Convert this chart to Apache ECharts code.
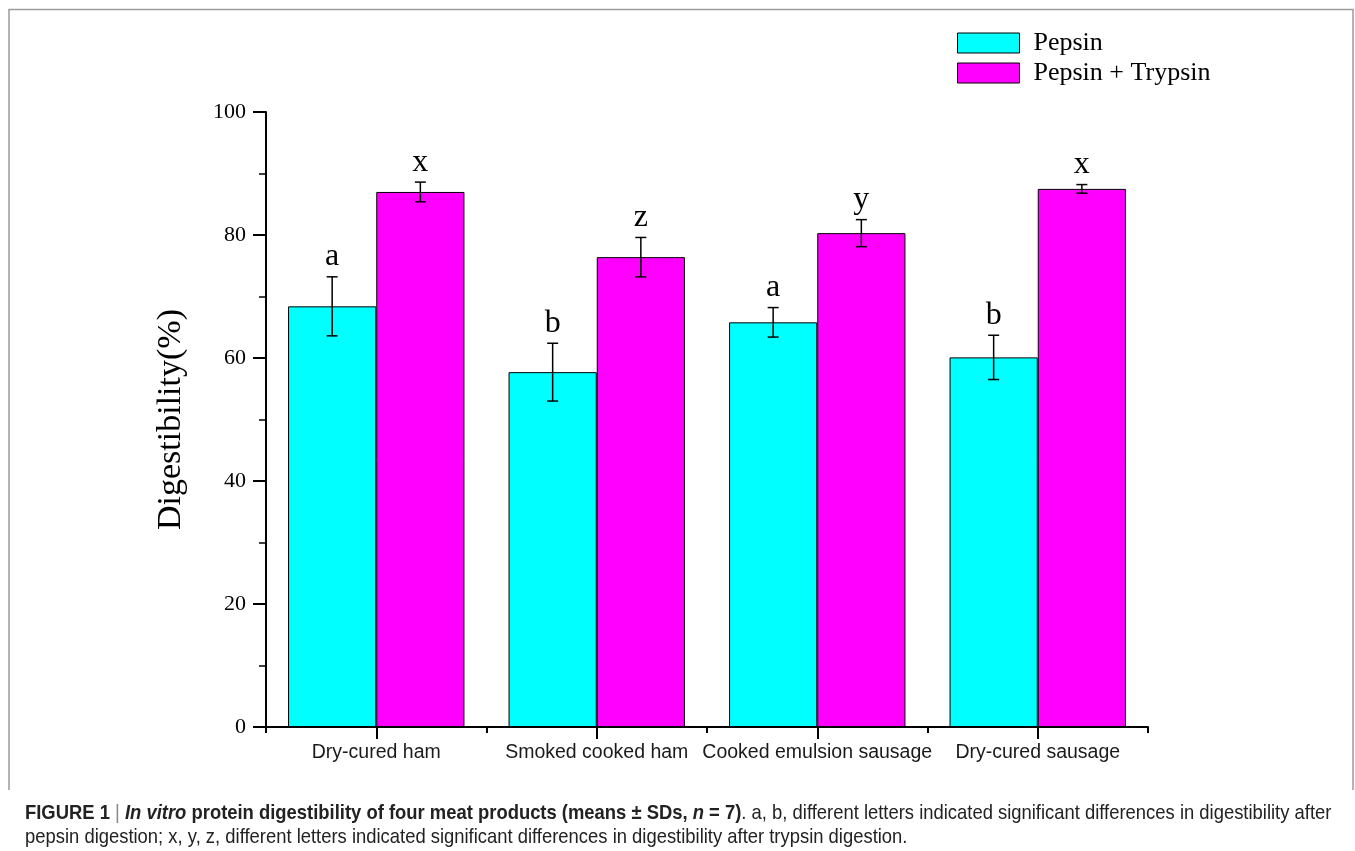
<!DOCTYPE html>
<html>
<head>
<meta charset="utf-8">
<title>In vitro protein digestibility</title>
<script src="https://cdn.jsdelivr.net/npm/echarts@6/dist/echarts.min.js"></script>
<style>
  html, body { margin: 0; padding: 0; background: #fff; }
  #chart { width: 1355px; height: 851px; }
</style>
</head>
<body>
<div id="chart"></div>
<script>
// Meat products and digestibility (%) after each enzyme step
const categories = ['Dry-cured ham', 'Smoked cooked ham', 'Cooked emulsion sausage', 'Dry-cured sausage'];
const seriesNames = ['Pepsin', 'Pepsin + Trypsin'];
const pepsinMean = [68.4, 57.7, 65.8, 60.1];
const pepsinSD = [4.8, 4.7, 2.4, 3.6];
const trypsinMean = [87.0, 76.4, 80.3, 87.5];
const trypsinSD = [1.6, 3.2, 2.2, 0.7];
// Significance letters
const pepsinLetters = ['a', 'b', 'a', 'b'];
const trypsinLetters = ['x', 'z', 'y', 'x'];

const serif = 'Liberation Serif, "Times New Roman", serif';
const sans = 'Liberation Sans, Arial, sans-serif';

// Error bars with caps plus the letter above each bar
function errorSeries(name, means, sds, letters, side) {
  return {
    name: name,
    type: 'custom',
    xAxisIndex: 0,
    yAxisIndex: 0,
    z: 10,
    data: means.map((m, i) => [i, m - sds[i], m + sds[i]]),
    encode: { x: 0, y: [1, 2] },
    renderItem: function (params, api) {
      const i = api.value(0);
      const lo = api.coord([i, api.value(1)]);
      const hi = api.coord([i, api.value(2)]);
      const band = api.size([1, 0])[0];
      const x = lo[0] + side * band * 0.2;
      const cap = 5.5;
      const style = { stroke: '#000', lineWidth: 1.5 };
      return {
        type: 'group',
        children: [
          { type: 'line', shape: { x1: x, y1: lo[1], x2: x, y2: hi[1] }, style: style },
          { type: 'line', shape: { x1: x - cap, y1: hi[1], x2: x + cap, y2: hi[1] }, style: style },
          { type: 'line', shape: { x1: x - cap, y1: lo[1], x2: x + cap, y2: lo[1] }, style: style },
          {
            type: 'text',
            style: {
              x: x, y: hi[1] - 4,
              text: letters[params.dataIndex],
              font: '32px ' + serif,
              fill: '#000',
              align: 'center',
              verticalAlign: 'bottom'
            }
          }
        ]
      };
    }
  };
}

const chart = echarts.init(document.getElementById('chart'), null, { renderer: 'canvas' });

const option = {
  backgroundColor: '#fff',
  animation: false,
  grid: { left: 266, right: 207, top: 112, bottom: 124 },
  legend: {
    data: seriesNames,
    orient: 'vertical',
    left: 957,
    top: 30,
    padding: 0,
    itemWidth: 62,
    itemHeight: 20,
    itemGap: 4,
    icon: 'rect',
    itemStyle: { borderColor: '#000', borderWidth: 1 },
    textStyle: { fontFamily: serif, fontSize: 26, color: '#000', padding: [0, 0, 0, 9] }
  },
  xAxis: [
    {
      type: 'category',
      data: categories,
      axisLine: { show: true, lineStyle: { color: '#000', width: 2 } },
      axisTick: { show: true, alignWithLabel: true, length: 12, lineStyle: { color: '#000', width: 2 } },
      axisLabel: { fontFamily: sans, fontSize: 19.5, color: '#1a1a1a', margin: 16, interval: 0 },
      splitLine: { show: false }
    },
    {
      type: 'category',
      data: categories,
      position: 'bottom',
      axisLine: { show: false },
      axisTick: { show: true, alignWithLabel: false, length: 6, lineStyle: { color: '#000', width: 2 } },
      axisLabel: { show: false },
      splitLine: { show: false }
    }
  ],
  yAxis: {
    type: 'value',
    min: 0,
    max: 100,
    interval: 20,
    name: 'Digestibility(%)',
    nameLocation: 'middle',
    nameGap: 78,
    nameTextStyle: { fontFamily: serif, fontSize: 34, color: '#000' },
    axisLine: { show: true, lineStyle: { color: '#000', width: 2 } },
    axisTick: { show: true, length: 13, lineStyle: { color: '#000', width: 2 } },
    minorTick: { show: true, splitNumber: 2, length: 7, lineStyle: { color: '#000', width: 1.5 } },
    axisLabel: { fontFamily: serif, fontSize: 22, color: '#000', margin: 20 },
    splitLine: { show: false }
  },
  series: [
    {
      name: seriesNames[0],
      type: 'bar',
      data: pepsinMean,
      barGap: '0%',
      barCategoryGap: '20%',
      itemStyle: { color: '#00ffff', borderColor: '#000', borderWidth: 1 }
    },
    {
      name: seriesNames[1],
      type: 'bar',
      data: trypsinMean,
      barGap: '0%',
      barCategoryGap: '20%',
      itemStyle: { color: '#ff00ff', borderColor: '#000', borderWidth: 1 }
    },
    errorSeries('Pepsin SD', pepsinMean, pepsinSD, pepsinLetters, -1),
    errorSeries('Pepsin + Trypsin SD', trypsinMean, trypsinSD, trypsinLetters, 1)
  ],
  graphic: [
    {
      type: 'polyline',
      shape: { points: [[9, 790], [9, 9.5], [1353, 9.5], [1353, 790]] },
      style: { stroke: '#9a9a9a', lineWidth: 1.5, fill: null },
      silent: true
    },
    {
      // caption set in a condensed style by squeezing the text horizontally
      type: 'text',
      x: 25,
      y: 801,
      scaleX: 0.877,
      style: {
        text: '{b|FIGURE 1} {g||} {bi|In vitro}{b| protein digestibility of four meat products (means ± SDs, }{bi|n}{b| = 7)}{r|. a, b, different letters indicated significant differences in digestibility after}\n{r|pepsin digestion; x, y, z, different letters indicated significant differences in digestibility after trypsin digestion.}',
        font: '21px ' + sans,
        fill: '#222',
        rich: {
          b: { fontFamily: sans, fontSize: 21, fontWeight: 'bold', fill: '#222', lineHeight: 24 },
          bi: { fontFamily: sans, fontSize: 21, fontWeight: 'bold', fontStyle: 'italic', fill: '#222', lineHeight: 24 },
          g: { fontFamily: sans, fontSize: 21, fill: '#888', lineHeight: 24 },
          r: { fontFamily: sans, fontSize: 21, fill: '#222', lineHeight: 24 }
        }
      }
    }
  ]
};

chart.setOption(option);
</script>
</body>
</html>
